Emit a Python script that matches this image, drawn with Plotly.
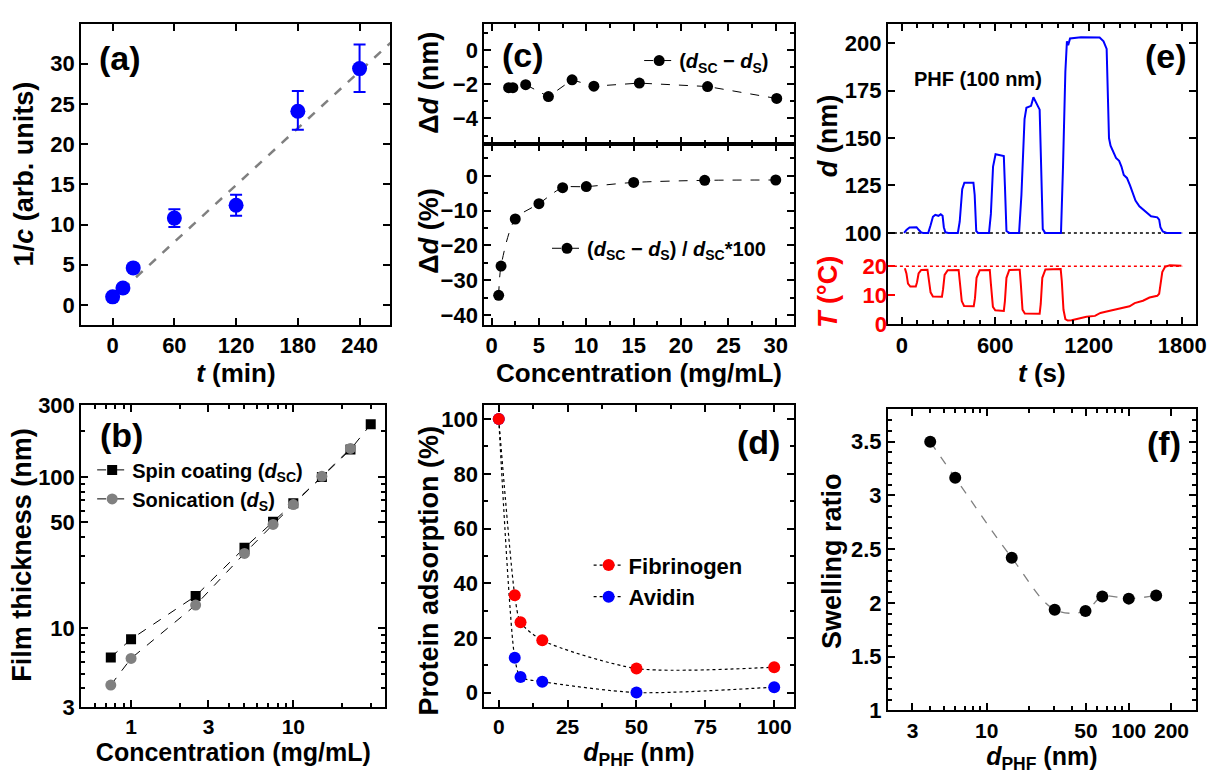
import plotly.graph_objects as go

W, H = 1215, 775
FONT = "Liberation Sans"

def fx(px):
    return px / W

def fy(py):
    return 1 - py / H

# ---------------- data ----------------
# (a)
a_t = [0, 10, 20, 60, 120, 180, 240]
a_y = [1.0, 2.1, 4.6, 10.8, 12.4, 24.1, 29.4]
a_err_plus = [0, 0, 0, 1.1, 1.3, 2.5, 3.0]
a_err_minus = [0, 0, 0, 1.1, 1.3, 2.3, 2.9]
a_fit_t = [-3, 270]
a_fit_y = [0.4, 32.6]

# (b)
b_conc_sc = [0.75, 1, 2.5, 5, 7.5, 10, 15, 22.5, 30]
b_d_sc = [6.4, 8.45, 16.3, 34, 50.5, 67, 100, 152, 223]
b_conc_s = [0.75, 1, 2.5, 5, 7.5, 10, 15, 22.5]
b_d_s = [4.2, 6.3, 14.2, 31.2, 48.5, 65.7, 101, 154.5]

# (c)
c_conc_top = [1.8, 2.25, 3.6, 6.0, 8.5, 10.8, 15.6, 22.8, 30.1]
c_dd_nm = [-2.2, -2.2, -2.02, -2.72, -1.74, -2.11, -1.93, -2.13, -2.83]
c_conc = [0.75, 1, 2.5, 5, 7.5, 10, 15, 22.5, 30]
c_dd_pct = [-34.3, -25.9, -12.4, -8.0, -3.4, -3.1, -1.9, -1.3, -1.2]

# (d)
d_x = [0, 5.8, 7.9, 15.8, 50, 100]
d_fib = [100, 35.6, 25.7, 19.1, 8.8, 9.3]
d_avi = [100, 12.7, 5.7, 4.0, 0.0, 2.0]

# (e)
e_t_d = [15, 30, 50, 70, 95, 110, 125, 140, 170, 185, 200, 215, 235, 250, 262, 270, 280, 300,
         360, 372, 388, 402, 460, 468, 478, 490, 560, 572, 586, 602, 640, 655, 662, 672, 690,
         753, 768, 788, 800, 830, 845, 860, 885, 893, 905, 920, 1022, 1035, 1050, 1060, 1068,
         1080, 1150, 1270, 1295, 1315, 1322, 1330, 1340, 1355, 1375, 1395, 1410, 1425, 1445,
         1465, 1480, 1500, 1525, 1545, 1570, 1600, 1640, 1652, 1660, 1675, 1700, 1795]
e_d = [100, 101.5, 102.8, 103, 103, 101.5, 100.2, 100, 100, 104, 108.5, 109.5, 109, 109.8, 109, 103, 100.3, 100,
       100, 106, 123, 126.5, 126.5, 120, 101, 100, 100, 110, 135, 141.5, 141, 140.5, 125, 101, 100,
       100, 120, 160, 166, 167, 171.5, 169, 165, 140, 102, 100, 100, 135, 185, 201, 199,
       202.5, 203.2, 203, 201, 197, 175, 150, 146, 143.5, 139.5, 138, 135, 130.5, 129,
       125, 121, 117, 114, 112.5, 111, 108.8, 108.2, 107, 103, 100.8, 100, 100]
e_t_T = [20, 30, 40, 55, 90, 98, 108, 125, 165, 172, 185, 200, 258, 265, 275, 295, 365, 372, 385, 400,
         462, 470, 480, 500, 565, 572, 585, 600, 655, 662, 672, 690, 757, 764, 775, 790, 885, 892,
         902, 922, 1020, 1027, 1038, 1050, 1065, 1090, 1125, 1185, 1240, 1275, 1315, 1400, 1462,
         1495, 1548, 1590, 1640, 1652, 1660, 1672, 1690, 1720, 1795]
e_T = [19.3, 17.5, 14, 13, 13, 14.5, 17.5, 18.7, 18.8, 16, 11, 9.6, 9.5, 12, 17, 18.6, 18.7, 15, 8, 6.3,
       6.2, 9, 16, 18.6, 18.7, 14, 6, 4.8, 4.6, 8, 16, 18.7, 18.8, 14, 5, 3.7, 3.6, 7,
       16, 18.9, 19, 15, 5, 1.8, 1.3, 1.4, 1.9, 2.6, 2.9, 3.9, 4.4, 5.3, 6.2,
       7.3, 8.1, 9.2, 9.8, 10.5, 13, 18, 19.8, 20.3, 20.2]
e_ref_t = [-89, 1800]
e_ref_d = [100, 100]
e_ref_T = [20, 20]

# (f)
f_x = [4.0, 6.0, 15.0, 30.1, 49.6, 65.1, 100, 156]
f_y = [3.5, 3.164, 2.42, 1.937, 1.925, 2.06, 2.04, 2.07]

# ---------------- figure ----------------
fig = go.Figure()
TICKFONT = dict(family=FONT, size=22, color="black", weight="bold")
TICKFONT_B = dict(family=FONT, size=21, color="black", weight="bold")
TITLE_B = dict(family=FONT, size=25, color="black", weight="bold")
TITLE = dict(family=FONT, size=26, color="black", weight="bold")


def axis(dom, anchor, rng, **kw):
    d = dict(domain=dom, anchor=anchor, range=rng, showline=True, linecolor="black",
             linewidth=2, mirror="ticks", ticks="inside", ticklen=7, tickwidth=2,
             tickcolor="black", tickfont=TICKFONT, showgrid=False, zeroline=False,
             ticklabeloverflow="allow")
    d.update(kw)
    return d

# (a)
fig.add_trace(go.Scatter(x=a_fit_t, y=a_fit_y, mode="lines", xaxis="x", yaxis="y",
                         line=dict(color="#808080", width=2.5, dash="dash"), showlegend=False))
fig.add_trace(go.Scatter(x=a_t, y=a_y, mode="markers", xaxis="x", yaxis="y",
                         marker=dict(color="#0000ff", size=15),
                         error_y=dict(type="data", array=a_err_plus, arrayminus=a_err_minus,
                                      color="#0000ff", thickness=2, width=6),
                         showlegend=False))

# (b)
fig.add_trace(go.Scatter(x=b_conc_sc, y=b_d_sc, mode="lines+markers", xaxis="x2", yaxis="y2",
                         name="Spin coating (<i>d</i><sub>SC</sub>)", legend="legend",
                         line=dict(color="black", width=1, dash="dash"),
                         marker=dict(symbol="square", color="black", size=10)))
fig.add_trace(go.Scatter(x=b_conc_s, y=b_d_s, mode="lines+markers", xaxis="x2", yaxis="y2",
                         name="Sonication (<i>d</i><sub>S</sub>)", legend="legend",
                         line=dict(color="black", width=1, dash="dash"),
                         marker=dict(symbol="circle", color="#808080", size=11)))

# (c)
fig.add_trace(go.Scatter(x=c_conc_top, y=c_dd_nm, mode="lines+markers", xaxis="x3", yaxis="y3",
                         name="(<i>d</i><sub>SC</sub> \u2212 <i>d</i><sub>S</sub>)", legend="legend2",
                         line=dict(color="black", width=1, dash="dash"),
                         marker=dict(color="black", size=11)))
fig.add_trace(go.Scatter(x=c_conc, y=c_dd_pct, mode="lines+markers", xaxis="x4", yaxis="y4",
                         name="(<i>d</i><sub>SC</sub> \u2212 <i>d</i><sub>S</sub>) / <i>d</i><sub>SC</sub>*100",
                         legend="legend3", line=dict(color="black", width=1, dash="dash", shape="spline", smoothing=0.8),
                         marker=dict(color="black", size=11)))

# (d)
fig.add_trace(go.Scatter(x=d_x, y=d_avi, mode="lines+markers", xaxis="x5", yaxis="y5",
                         name="Avidin", legend="legend4", legendrank=2,
                         line=dict(color="black", width=1.2, dash="dot", shape="spline", smoothing=0.7),
                         marker=dict(color="#0000ff", size=12)))
fig.add_trace(go.Scatter(x=d_x, y=d_fib, mode="lines+markers", xaxis="x5", yaxis="y5",
                         name="Fibrinogen", legend="legend4", legendrank=1,
                         line=dict(color="black", width=1.2, dash="dot", shape="spline", smoothing=0.7),
                         marker=dict(color="#ff0000", size=12)))

# (e)
fig.add_trace(go.Scatter(x=e_ref_t, y=e_ref_d, mode="lines", xaxis="x6", yaxis="y6",
                         line=dict(color="black", width=1.5, dash="dot"), showlegend=False))
fig.add_trace(go.Scatter(x=e_t_d, y=e_d, mode="lines", xaxis="x6", yaxis="y6",
                         line=dict(color="#0000ff", width=2), showlegend=False))
fig.add_trace(go.Scatter(x=e_ref_t, y=e_ref_T, mode="lines", xaxis="x6", yaxis="y7",
                         line=dict(color="#ff0000", width=1.5, dash="dot"), showlegend=False))
fig.add_trace(go.Scatter(x=e_t_T, y=e_T, mode="lines", xaxis="x6", yaxis="y7",
                         line=dict(color="#ff0000", width=2), showlegend=False))

# (f)
fig.add_trace(go.Scatter(x=f_x, y=f_y, mode="lines+markers", xaxis="x7", yaxis="y8",
                         line=dict(color="#808080", width=1.3, dash="dash", shape="spline", smoothing=1),
                         marker=dict(color="black", size=12), showlegend=False))

# domains
dom_a_x = [fx(82), fx(394)]
dom_a_y = [fy(323), fy(12)]
dom_b_x = [fx(82), fx(389)]
dom_b_y = [fy(718.3), fy(406)]
dom_c_x = [fx(488.7), fx(801)]
dom_ct_y = [fy(136), fy(12)]
dom_cb_y = [fy(323.3), fy(136)]
dom_d_y = [fy(717.7), fy(405.7)]
dom_e_x = [fx(896), fx(1206.7)]
dom_e_y = [fy(322.7), fy(12.7)]
dom_f_y = [fy(721.7), fy(410.7)]

minor_in = lambda **kw: dict(ticks="inside", ticklen=4, tickwidth=1.5, tickcolor="black", **kw)
bottom_title = lambda text: dict(text=text, font=TITLE_B, standoff=3)
top_title = lambda text: dict(text=text, font=TITLE, standoff=4)

layout = dict(
    width=W, height=H, margin=dict(l=0, r=0, t=0, b=0),
    plot_bgcolor="white", paper_bgcolor="white",
    font=dict(family=FONT, color="black"),
    xaxis=axis(dom_a_x, "y", [-30.5, 270], tickvals=[0, 60, 120, 180, 240],
               title=top_title("<i>t</i> (min)")),
    yaxis=axis(dom_a_y, "x", [-2.45, 35], tickvals=[0, 5, 10, 15, 20, 25, 30]),
    xaxis2=axis(dom_b_x, "y2", [-0.307, 1.568], type="log", tickvals=[1, 3, 10], tickfont=TICKFONT_B,
                title=bottom_title("Concentration (mg/mL)"),
                minor=minor_in(tickvals=[0.5, 0.6, 0.7, 0.8, 0.9, 2, 4, 5, 6, 7, 8, 9, 20, 30])),
    yaxis2=axis(dom_b_y, "x2", [0.477, 2.477], type="log", tickvals=[3, 10, 50, 100, 300],
                minor=minor_in(tickvals=[4, 5, 6, 7, 8, 9, 20, 30, 40, 60, 70, 80, 90, 200])),
    xaxis3=axis(dom_c_x, "y3", [-0.77, 31.9], tickvals=[0, 5, 10, 15, 20, 25, 30],
                showticklabels=False, minor=minor_in(dtick=2.5)),
    yaxis3=axis(dom_ct_y, "x3", [-5.47, 1.55], tickvals=[-4, -2, 0], minor=minor_in(dtick=1)),
    xaxis4=axis(dom_c_x, "y4", [-0.77, 31.9], tickvals=[0, 5, 10, 15, 20, 25, 30],
                title=top_title("Concentration (mg/mL)"),
                minor=minor_in(dtick=2.5)),
    yaxis4=axis(dom_cb_y, "x4", [-42.8, 9.25], tickvals=[-40, -30, -20, -10, 0], minor=minor_in(dtick=5)),
    xaxis5=axis(dom_c_x, "y5", [-5.26, 107.1], tickvals=[0, 25, 50, 75, 100], tickfont=TICKFONT_B,
                title=bottom_title("<i>d</i><sub>PHF</sub> (nm)"),
                minor=minor_in(dtick=12.5)),
    yaxis5=axis(dom_d_y, "x5", [-5.1, 105.3], tickvals=[0, 20, 40, 60, 80, 100], minor=minor_in(dtick=10)),
    xaxis6=axis(dom_e_x, "y6", [-89, 1887], tickvals=[0, 600, 1200, 1800],
                title=top_title("<i>t</i> (s)"), minor=minor_in(dtick=100)),
    yaxis6=axis(dom_e_y, "x6", [51.8, 210], tickvals=[100, 125, 150, 175, 200]),
    yaxis7=dict(domain=dom_e_y, anchor="x6", overlaying="y6", range=[0, 103.3], side="left",
                tickvals=[0, 10, 20], ticks="inside", ticklen=7, tickwidth=2, tickcolor="#ff0000",
                tickfont=dict(family=FONT, size=22, color="#ff0000", weight="bold"),
                showline=False, showgrid=False, zeroline=False),
    xaxis7=axis(dom_e_x, "y8", [0.304, 2.472], type="log", tickvals=[3, 10, 50, 100, 200], tickfont=TICKFONT_B,
                title=bottom_title("<i>d</i><sub>PHF</sub> (nm)"),
                minor=minor_in(tickvals=[4, 5, 6, 7, 8, 9, 20, 30, 40, 60, 70, 80, 90])),
    yaxis8=axis(dom_f_y, "x7", [1, 3.8], tickvals=[1, 1.5, 2, 2.5, 3, 3.5], minor=minor_in(dtick=0.1)),
    legend=dict(x=fx(93), y=fy(453), xanchor="left", yanchor="top", bgcolor="rgba(0,0,0,0)",
                font=dict(family=FONT, size=20, color="black", weight="bold"), itemwidth=30,
                tracegroupgap=0),
    legend2=dict(x=fx(645), y=fy(30), xanchor="left", yanchor="top", bgcolor="rgba(0,0,0,0)",
                 font=dict(family=FONT, size=20, color="black", weight="bold"), itemwidth=30),
    legend3=dict(x=fx(552), y=fy(224), xanchor="left", yanchor="top", bgcolor="rgba(0,0,0,0)",
                 font=dict(family=FONT, size=20, color="black", weight="bold"), itemwidth=30),
    legend4=dict(x=fx(594), y=fy(550), xanchor="left", yanchor="top", bgcolor="rgba(0,0,0,0)",
                 font=dict(family=FONT, size=22, color="black", weight="bold"), itemwidth=30,
                 traceorder="normal", tracegroupgap=0),
)

VTITLE = dict(family=FONT, size=27, color="black", weight="bold")
LABEL = dict(family=FONT, size=34, color="black", weight="bold")


def ann(text, x, y, font, angle=0, yanchor="middle"):
    return dict(text=text, x=fx(x), y=fy(y), xref="paper", yref="paper", showarrow=False,
                xanchor="center", yanchor=yanchor, font=font, textangle=angle, borderpad=0)

red_title = dict(VTITLE, color="#ff0000")
annotations = [
    ann("(a)", 121, 48, LABEL), ann("(b)", 123, 437, LABEL), ann("(c)", 528, 44, LABEL),
    ann("(d)", 765, 444, LABEL), ann("(e)", 1177, 45, LABEL), ann("(f)", 1175, 445, LABEL),
    ann("1/<i>c</i> (arb. units)", 24, 167, VTITLE, -90),
    ann("Film thickness (nm)", 22, 561, VTITLE, -90),
    ann("\u0394<i>d</i> (nm)", 433, 73, VTITLE, -90),
    ann("\u0394<i>d</i> (%)", 433, 227, VTITLE, -90),
    ann("Protein adsorption (%)", 433, 577, VTITLE, -90),
    ann("<i>d</i> (nm)", 835, 128, VTITLE, -90),
    ann("<i>T</i> (\u00b0C)", 835, 289, red_title, -90),
    ann("PHF (100 nm)", 987, 69, dict(family=FONT, size=20, color="black", weight="bold")),
    ann("Swelling ratio", 839, 567, VTITLE, -90),
]
layout["annotations"] = annotations

fig.update_layout(**layout)
fig.write_html("out.html")
